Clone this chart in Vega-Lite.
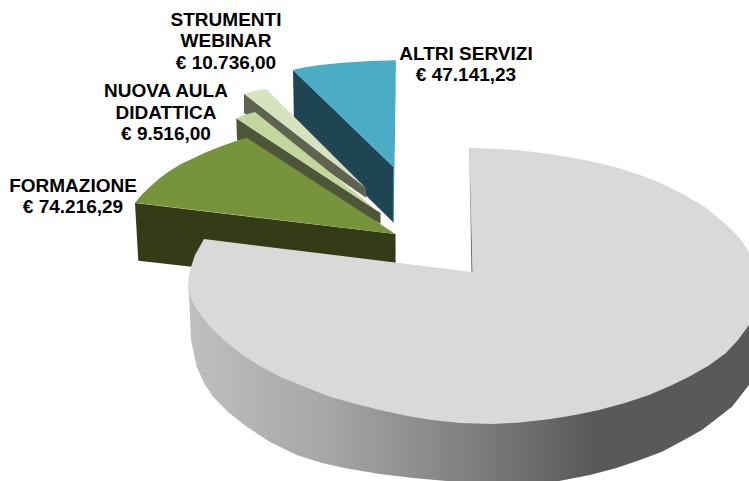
{
"$schema":"https://vega.github.io/schema/vega-lite/v6.json",
"width":749,"height":481,"padding":0,
"autosize":{"type":"fit","contains":"padding"},
"background":"white",
"view":{"stroke":null},
"datasets":{
"shapes":[
{"part":"altri side","i":1,"x":293,"y":70},{"part":"altri side","i":2,"x":393.5,"y":167},{"part":"altri side","i":3,"x":393.5,"y":222.5},{"part":"altri side","i":4,"x":294,"y":125},
{"part":"altri edge","i":1,"x":396,"y":60.3},{"part":"altri edge","i":2,"x":393.5,"y":222.5},{"part":"altri edge","i":3,"x":392.8,"y":222.5},{"part":"altri edge","i":4,"x":393,"y":167},
{"part":"altri top","i":1,"x":292.7,"y":70},{"part":"altri top","i":2,"x":305,"y":67.3},{"part":"altri top","i":3,"x":320,"y":65},{"part":"altri top","i":4,"x":343,"y":62.7},{"part":"altri top","i":5,"x":370,"y":61},{"part":"altri top","i":6,"x":396,"y":60.3},{"part":"altri top","i":7,"x":393.5,"y":166.7},
{"part":"webinar side","i":1,"x":244,"y":93.7},{"part":"webinar side","i":2,"x":366,"y":188.3},{"part":"webinar side","i":3,"x":366,"y":197.7},{"part":"webinar side","i":4,"x":244,"y":113},
{"part":"webinar top","i":1,"x":244,"y":93.7},{"part":"webinar top","i":2,"x":255,"y":90.7},{"part":"webinar top","i":3,"x":266,"y":88.7},{"part":"webinar top","i":4,"x":366,"y":188.3},
{"part":"aula side","i":1,"x":236.3,"y":118.3},{"part":"aula side","i":2,"x":380.5,"y":213},{"part":"aula side","i":3,"x":380.5,"y":224},{"part":"aula side","i":4,"x":237,"y":140},
{"part":"aula top","i":1,"x":236.3,"y":118.3},{"part":"aula top","i":2,"x":245,"y":114.7},{"part":"aula top","i":3,"x":255,"y":112},{"part":"aula top","i":4,"x":380.5,"y":213},
{"part":"formazione side","i":1,"x":135,"y":203},{"part":"formazione side","i":2,"x":395.5,"y":234},{"part":"formazione side","i":3,"x":395.7,"y":290},{"part":"formazione side","i":4,"x":138.3,"y":260.7},
{"part":"formazione top","i":1,"x":135,"y":202.7},{"part":"formazione top","i":2,"x":142,"y":194.5},{"part":"formazione top","i":3,"x":150,"y":186.7},{"part":"formazione top","i":4,"x":160,"y":178},{"part":"formazione top","i":5,"x":170,"y":170.7},{"part":"formazione top","i":6,"x":181,"y":164},{"part":"formazione top","i":7,"x":193.3,"y":158.3},{"part":"formazione top","i":8,"x":206,"y":152.2},{"part":"formazione top","i":9,"x":220,"y":146.7},{"part":"formazione top","i":10,"x":233,"y":142},{"part":"formazione top","i":11,"x":246.7,"y":137.7},{"part":"formazione top","i":12,"x":395.5,"y":234}
],
"greySide":[
{"i":1,"x":188.3,"y":286},{"i":2,"x":190,"y":315},{"i":3,"x":191,"y":340},{"i":4,"x":196.7,"y":366.7},{"i":5,"x":204,"y":383},{"i":6,"x":213,"y":396.7},{"i":7,"x":228,"y":412},{"i":8,"x":246.7,"y":426.7},{"i":9,"x":270,"y":442},{"i":10,"x":296.7,"y":455},{"i":11,"x":322,"y":463},{"i":12,"x":346.7,"y":468.5},{"i":13,"x":380,"y":474},{"i":14,"x":413,"y":478},{"i":15,"x":480,"y":484},{"i":16,"x":530,"y":484},{"i":17,"x":559,"y":481},{"i":18,"x":590,"y":475},{"i":19,"x":615.7,"y":468.3},{"i":20,"x":640,"y":460},{"i":21,"x":662,"y":451.7},{"i":22,"x":684,"y":440},{"i":23,"x":702,"y":430},{"i":24,"x":732,"y":406.7},{"i":25,"x":749,"y":385},{"i":26,"x":749,"y":320},{"i":27,"x":400,"y":320}
],
"greyCut":[
{"i":1,"x":469,"y":148},{"i":2,"x":470,"y":148},{"i":3,"x":472.8,"y":272},{"i":4,"x":471.5,"y":272}
],
"greyTop":[
{"i":1,"x":472.5,"y":272},{"i":2,"x":469.7,"y":148},{"i":3,"x":490,"y":148.6},{"i":4,"x":515.7,"y":150},{"i":5,"x":540,"y":152.8},{"i":6,"x":565.7,"y":156.7},{"i":7,"x":590,"y":161},{"i":8,"x":615.7,"y":167.3},{"i":9,"x":640,"y":175},{"i":10,"x":660,"y":182.7},{"i":11,"x":683.3,"y":194.3},{"i":12,"x":706.7,"y":208.3},{"i":13,"x":726.7,"y":225},{"i":14,"x":740,"y":238.3},{"i":15,"x":749,"y":251.7},{"i":16,"x":749,"y":325},{"i":17,"x":738,"y":340},{"i":18,"x":725.7,"y":353.3},{"i":19,"x":708,"y":366},{"i":20,"x":689,"y":376.7},{"i":21,"x":670,"y":386},{"i":22,"x":649,"y":395},{"i":23,"x":625,"y":403},{"i":24,"x":599,"y":410},{"i":25,"x":575,"y":415},{"i":26,"x":549,"y":419.3},{"i":27,"x":520,"y":422.5},{"i":28,"x":492.3,"y":424},{"i":29,"x":460,"y":423},{"i":30,"x":430,"y":419.8},{"i":31,"x":405,"y":415.5},{"i":32,"x":380,"y":410},{"i":33,"x":355,"y":403.8},{"i":34,"x":330,"y":396.7},{"i":35,"x":305,"y":387},{"i":36,"x":280,"y":376.7},{"i":37,"x":259,"y":365.5},{"i":38,"x":240,"y":353.3},{"i":39,"x":224,"y":340},{"i":40,"x":210,"y":326.7},{"i":41,"x":200,"y":314},{"i":42,"x":193.3,"y":303.3},{"i":43,"x":189.5,"y":295},{"i":44,"x":188.3,"y":286.7},{"i":45,"x":188.6,"y":278},{"i":46,"x":190,"y":270},{"i":47,"x":195,"y":255},{"i":48,"x":204,"y":239}
],
"labels":[
{"name":"ALTRI SERVIZI","text":["ALTRI SERVIZI","€ 47.141,23"],"amount":47141.23,"x":466,"y":53.5},
{"name":"STRUMENTI WEBINAR","text":["STRUMENTI","WEBINAR","€ 10.736,00"],"amount":10736,"x":226,"y":19.5},
{"name":"NUOVA AULA DIDATTICA","text":["NUOVA AULA","DIDATTICA","€ 9.516,00"],"amount":9516,"x":166,"y":91},
{"name":"FORMAZIONE","text":["FORMAZIONE","€ 74.216,29"],"amount":74216.29,"x":73,"y":185.5}
]
},
"encoding":{
"x":{"field":"x","type":"quantitative","scale":{"domain":[0,749],"nice":false,"zero":false},"axis":null},
"y":{"field":"y","type":"quantitative","scale":{"domain":[481,0],"nice":false,"zero":false},"axis":null}
},
"layer":[
{"data":{"name":"shapes"},
 "mark":{"type":"line","strokeWidth":0,"clip":true},
 "encoding":{
  "fill":{"field":"part","type":"nominal","legend":null,"scale":{"domain":["altri side","altri edge","altri top","webinar side","webinar top","aula side","aula top","formazione side","formazione top"],"range":["#1f4554","#3a8ca5","#4bacc6","#5f6350","#d7e3bf","#4f5539","#c3d69b","#333c17","#77933c"]}},
  "detail":{"field":"part"},
  "order":{"field":"i","type":"quantitative"}
 }},
{"data":{"name":"greySide"},
 "mark":{"type":"line","strokeWidth":0,"clip":true,"fill":{"gradient":"linear","x1":0,"y1":0,"x2":1,"y2":0,"stops":[{"offset":0,"color":"#bfbfbf"},{"offset":0.25,"color":"#a6a6a6"},{"offset":0.465,"color":"#858585"},{"offset":0.72,"color":"#595959"},{"offset":1,"color":"#595959"}]}},
 "encoding":{"order":{"field":"i","type":"quantitative"}}},
{"data":{"name":"greyCut"},
 "mark":{"type":"line","strokeWidth":0,"clip":true,"fill":{"gradient":"linear","x1":0,"y1":0,"x2":0,"y2":1,"stops":[{"offset":0,"color":"#d0d0d0"},{"offset":1,"color":"#505050"}]}},
 "encoding":{"order":{"field":"i","type":"quantitative"}}},
{"data":{"name":"greyTop"},
 "mark":{"type":"line","strokeWidth":0,"clip":true,"fill":"#d9d9d9"},
 "encoding":{"order":{"field":"i","type":"quantitative"}}},
{"data":{"name":"labels"},
 "mark":{"type":"text","font":"Liberation Sans","fontWeight":"bold","fontSize":19,"lineHeight":21.5,"align":"center","baseline":"middle","color":"#000000"},
 "encoding":{"text":{"field":"text"}}}
]
}
